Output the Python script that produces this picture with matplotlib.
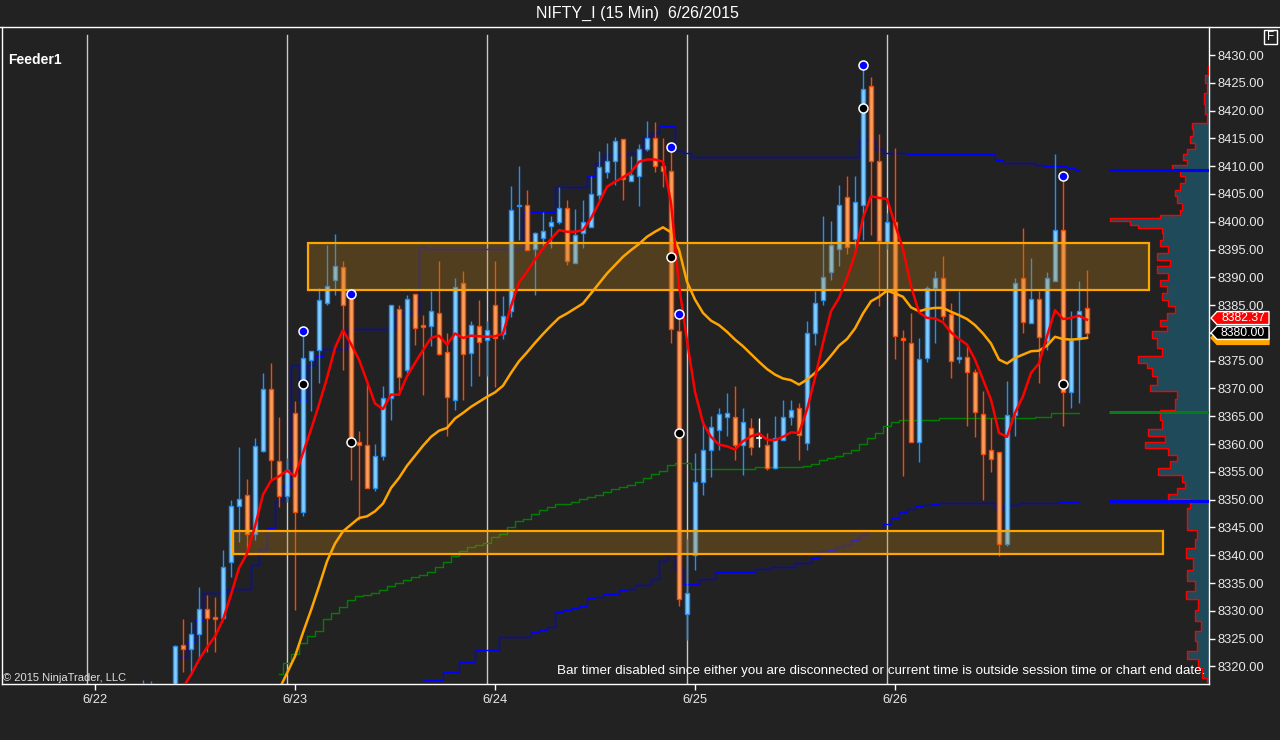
import numpy as np
import matplotlib
matplotlib.use('Agg')
import matplotlib.pyplot as plt
import matplotlib.transforms as mtransforms
from matplotlib.patches import Rectangle, Polygon
from matplotlib.lines import Line2D

plt.rcParams['font.family'] = ['Liberation Sans', 'DejaVu Sans']

BG = '#222222'
UP_FACE, UP_EDGE = '#87CEFA', '#1E90FF'
DN_FACE, DN_EDGE = '#F4A460', '#FF4500'

# NIFTY_I 15 min bars, bar 0 = first bar on screen (late 6/22) .. bar 118 = last bar of 6/26
opens = [8310, 8311, 8314, 8311, 8315, 8323.8, 8323.1, 8325.8, 8330.4, 8328.8,
         8328.7, 8338.8, 8348.8, 8350.8, 8343.8, 8358.8, 8369.9, 8357.0, 8350.6, 8365.6,
         8347.7, 8375.2, 8377.0, 8385.4, 8389.6, 8391.9, 8386.6, 8360.4, 8359.8, 8352.1,
         8357.8, 8368.3, 8384.3, 8373.3, 8387.0, 8381.4, 8381.2, 8383.6, 8376.6, 8367.9,
         8389.0, 8376.4, 8381.2, 8378.8, 8385.0, 8379.8, 8383.9, 8402.8, 8403.0, 8395.1,
         8397.1, 8399.2, 8400.0, 8402.4, 8392.6, 8398.0, 8399.0, 8404.9, 8408.9, 8410.9,
         8414.9, 8407.3, 8408.3, 8413.1, 8415.1, 8410.0, 8409.1, 8380.3, 8329.5, 8340.1,
         8353.2, 8359.0, 8362.6, 8364.9, 8364.9, 8359.9, 8362.9, 8361.1, 8359.9, 8355.7,
         8360.8, 8364.9, 8366.5, 8360.2, 8380.0, 8386.0, 8391.0, 8395.1, 8404.5, 8396.9,
         8403.0, 8424.5, 8410.9, 8396.3, 8400.0, 8379.0, 8378.1, 8360.3, 8375.4, 8388.0,
         8389.9, 8383.4, 8375.3, 8375.7, 8373.0, 8365.4, 8358.9, 8358.6, 8342.0, 8365.2,
         8389.9, 8381.8, 8386.1, 8378.5, 8389.3, 8398.5, 8369.4, 8378.9, 8384.4]
highs = [8317.6, 8317.3, 8316, 8316.5, 8323.8, 8328.6, 8327.9, 8334.3, 8332.9, 8332.5,
         8341.0, 8350.0, 8359.4, 8353.8, 8361.1, 8372.8, 8374.6, 8364.9, 8357.5, 8367.7,
         8380.3, 8376.8, 8388.1, 8395.9, 8397.8, 8392.9, 8387.0, 8362.4, 8371.3, 8360.1,
         8370.5, 8385.0, 8385.1, 8386.9, 8387.0, 8383.3, 8387.5, 8393.0, 8380.0, 8389.9,
         8391.1, 8382.1, 8386.0, 8382.1, 8393.0, 8386.6, 8406.5, 8410.1, 8405.7, 8398.1,
         8401.8, 8401.0, 8406.2, 8404.0, 8402.3, 8404.0, 8408.2, 8412.8, 8414.2, 8415.3,
         8414.9, 8411.9, 8413.9, 8418.1, 8417.9, 8415.0, 8413.5, 8383.4, 8343.0, 8358.4,
         8364.1, 8365.0, 8366.5, 8369.1, 8370.5, 8366.4, 8364.7, 8364.6, 8362.0, 8365.0,
         8367.9, 8368.0, 8367.3, 8382.1, 8387.5, 8401.1, 8400.1, 8406.7, 8408.2, 8408.2,
         8428.2, 8426.1, 8415.8, 8401.6, 8413.3, 8380.6, 8383.5, 8379.0, 8388.5, 8391.1,
         8393.9, 8385.3, 8387.6, 8377.6, 8373.5, 8369.6, 8364.7, 8358.6, 8371.4, 8389.9,
         8398.9, 8393.5, 8387.6, 8391.0, 8412.1, 8408.3, 8384.0, 8389.4, 8391.4]
lows = [8308, 8309, 8309, 8309, 8313, 8319.0, 8318.5, 8321.2, 8322.6, 8322.6,
        8328.5, 8336.0, 8342.3, 8340.5, 8342.8, 8358.6, 8353.6, 8348.6, 8349.5, 8330.2,
        8347.0, 8365.9, 8371.0, 8385.0, 8386.9, 8373.4, 8353.6, 8346.4, 8352.1, 8351.5,
        8357.2, 8364.4, 8368.9, 8372.8, 8377.9, 8368.9, 8377.6, 8376.1, 8361.4, 8366.1,
        8368.0, 8370.4, 8372.2, 8372.2, 8370.3, 8378.9, 8382.9, 8396.8, 8395.0, 8386.9,
        8395.3, 8395.3, 8399.6, 8392.3, 8392.6, 8395.3, 8399.0, 8403.9, 8407.8, 8406.6,
        8403.9, 8407.3, 8402.9, 8412.7, 8408.9, 8406.2, 8378.1, 8330.9, 8324.8, 8337.4,
        8350.9, 8354.0, 8359.0, 8361.4, 8357.2, 8354.5, 8358.0, 8359.4, 8355.3, 8355.5,
        8360.8, 8363.5, 8357.1, 8359.0, 8377.9, 8385.1, 8389.6, 8392.0, 8394.2, 8394.4,
        8396.8, 8397.7, 8384.9, 8395.1, 8375.3, 8354.3, 8360.3, 8356.8, 8374.7, 8378.1,
        8382.4, 8371.9, 8374.5, 8363.3, 8361.2, 8349.9, 8354.9, 8339.9, 8341.7, 8361.5,
        8379.9, 8381.7, 8370.9, 8376.9, 8389.3, 8363.2, 8366.5, 8367.4, 8379.1]
closes = [8314, 8315, 8311, 8315, 8323.6, 8323.2, 8325.8, 8330.4, 8328.7, 8328.6,
          8337.9, 8348.8, 8350.2, 8343.8, 8359.6, 8369.9, 8357.1, 8350.6, 8355.4, 8347.7,
          8375.5, 8376.8, 8386.0, 8388.4, 8392.1, 8385.1, 8360.2, 8359.9, 8352.1, 8357.8,
          8368.3, 8384.95, 8372.1, 8386.1, 8380.8, 8381.0, 8384.0, 8376.2, 8368.5, 8388.3,
          8376.2, 8381.4, 8378.4, 8380.6, 8379.1, 8383.0, 8402.1, 8403.1, 8395.0, 8398.0,
          8398.4, 8400.0, 8402.4, 8393.0, 8397.6, 8400.0, 8405.0, 8409.8, 8410.9, 8414.5,
          8407.7, 8408.4, 8413.1, 8415.1, 8410.0, 8409.1, 8380.7, 8332.1, 8333.2, 8353.2,
          8359.0, 8363.1, 8365.4, 8365.6, 8359.9, 8364.0, 8359.5, 8361.1, 8355.7, 8361.1,
          8364.9, 8366.2, 8361.6, 8380.0, 8385.4, 8390.1, 8395.9, 8403.0, 8395.5, 8403.6,
          8423.9, 8410.9, 8396.6, 8400.0, 8379.4, 8378.7, 8360.3, 8375.3, 8388.1, 8389.9,
          8383.0, 8374.9, 8375.7, 8373.0, 8365.8, 8358.3, 8357.3, 8342.0, 8365.2, 8389.0,
          8381.9, 8386.1, 8379.2, 8389.9, 8398.5, 8369.4, 8378.8, 8383.9, 8380.0]

# fast (red) and slow (orange) averages
red_start = 4
red_ma = [8314.0, 8316.2, 8318.5, 8321.2, 8323.4, 8325.4, 8328.4, 8332.9, 8337.7, 8340.3,
          8345.2, 8350.9, 8353.4, 8354.2, 8355.2, 8354.2, 8358.4, 8362.6, 8367.1, 8371.9,
          8377.3, 8380.5, 8378.0, 8375.2, 8371.3, 8367.3, 8366.3, 8368.9, 8368.9, 8372.2,
          8374.6, 8376.9, 8379.1, 8379.5, 8377.9, 8379.9, 8379.1, 8379.5, 8379.4, 8379.3,
          8379.4, 8379.9, 8384.8, 8389.1, 8391.0, 8393.2, 8395.2, 8396.9, 8398.5, 8398.2,
          8398.2, 8398.5, 8400.6, 8403.4, 8406.3, 8407.2, 8408.0, 8408.9, 8410.8, 8411.2,
          8411.2, 8410.8, 8403.4, 8388.5, 8378.6, 8369.4, 8363.8, 8361.3, 8359.9, 8359.6,
          8359.0, 8360.5, 8361.4, 8361.9, 8360.8, 8360.7, 8361.3, 8362.1, 8362.0, 8366.2,
          8371.9, 8378.2, 8383.9, 8386.3, 8389.9, 8394.1, 8400.7, 8404.6, 8404.3, 8404.1,
          8399.5, 8395.1, 8388.4, 8383.7, 8382.7, 8382.6, 8381.9, 8380.1, 8378.9, 8377.9,
          8375.2, 8371.6, 8368.0, 8362.0, 8361.3, 8365.6, 8368.6, 8372.8, 8374.5, 8379.4,
          8384.1, 8382.5, 8382.7, 8383.1, 8382.37]
orange_start = 17
orange_ma = [8315.8, 8318.8, 8321.8, 8326.1, 8330.1, 8334.4, 8338.9, 8342.1, 8344.3, 8345.5,
             8346.7, 8347.0, 8347.9, 8349.3, 8352.1, 8353.9, 8356.1, 8357.9, 8359.7, 8361.3,
             8362.4, 8362.9, 8364.6, 8365.6, 8366.7, 8367.6, 8368.5, 8369.3, 8370.5, 8372.8,
             8374.9, 8376.5, 8378.2, 8379.8, 8381.3, 8382.7, 8383.5, 8384.4, 8385.3, 8387.1,
             8388.9, 8390.7, 8392.2, 8393.7, 8394.9, 8396.0, 8397.3, 8398.2, 8399.0, 8398.1,
             8395.0, 8389.2, 8386.0, 8383.6, 8382.2, 8381.4, 8380.2, 8378.8, 8377.6, 8376.2,
             8374.8, 8373.5, 8372.5, 8371.8, 8371.5, 8370.7, 8371.6, 8372.8, 8374.2, 8375.9,
             8377.7, 8378.9, 8380.8, 8383.5, 8385.7, 8386.5, 8387.6, 8387.1, 8386.5, 8384.6,
             8383.9, 8384.3, 8384.5, 8384.5, 8383.8, 8383.2, 8382.5, 8381.4, 8379.9, 8378.1,
             8375.2, 8374.5, 8375.5, 8376.1, 8376.7, 8376.8, 8377.7, 8379.3, 8378.9, 8378.8,
             8378.9, 8379.1]
# green step line (vwap)
green_start = 17
vwap = [8318.7, 8320.6, 8322.3, 8324.2, 8325.5, 8326.4, 8328.5, 8329.6, 8330.7, 8332.0,
        8332.6, 8332.9, 8333.2, 8333.8, 8334.4, 8335.0, 8335.6, 8336.1, 8336.5, 8337.0,
        8337.9, 8338.8, 8339.9, 8340.8, 8341.5, 8341.9, 8342.2, 8343.2, 8343.8, 8345.1,
        8346.1, 8346.5, 8347.4, 8348.2, 8348.7, 8349.2, 8349.3, 8349.6, 8350.1, 8350.4,
        8350.8, 8351.3, 8352.0, 8352.3, 8352.6, 8353.1, 8353.9, 8354.6, 8355.2, 8356.3,
        8356.6, 8356.6, 8355.5, 8355.5, 8355.5, 8355.5, 8355.5, 8355.5, 8355.5, 8355.5,
        8355.9, 8355.9, 8355.9, 8355.9, 8355.9, 8355.9, 8356.1, 8356.5, 8357.1, 8357.5,
        8357.9, 8358.4, 8359.0, 8360.0, 8361.1, 8362.0, 8363.3, 8364.0, 8364.3, 8364.3,
        8364.3, 8364.3, 8364.3, 8364.7, 8364.7, 8364.7, 8364.7, 8364.7, 8364.7, 8364.7,
        8364.7, 8364.7, 8364.7, 8364.7, 8364.7, 8364.9, 8364.9, 8365.5, 8365.5, 8365.6,
        8365.6]
# blue step lines
blue_hi_start = 4
blue_hi = [8321.6, 8321.6, 8324.3, 8328.4, 8333.2, 8333.2, 8333.2, 8333.9, 8333.9, 8333.9,
           8338.3, 8341.1, 8344.9, 8349.7, 8352.5, 8374.3, 8368.0, 8374.3, 8375.9, 8377.1,
           8377.1, 8377.1, 8380.7, 8380.7, 8380.7, 8380.7, 8380.7, 8380.7, 8383.6, 8383.6,
           8383.6, 8395.5, 8395.1, 8395.1, 8395.1, 8395.1, 8395.1, 8395.1, 8395.1, 8395.1,
           8395.1, 8395.1, 8395.1, 8395.1, 8401.8, 8401.8, 8401.8, 8401.8, 8406.2, 8406.2,
           8406.2, 8406.2, 8408.2, 8410.5, 8412.0, 8412.0, 8412.0, 8412.4, 8412.4, 8415.3,
           8415.9, 8417.3, 8417.3, 8412.7, 8412.4, 8411.6, 8411.6, 8411.6, 8411.6, 8411.6,
           8411.6, 8411.6, 8411.6, 8411.6, 8411.6, 8411.6, 8411.6, 8411.6, 8411.6, 8411.6,
           8411.6, 8411.6, 8411.6, 8411.6, 8411.6, 8411.6, 8414.8, 8414.8, 8413.1, 8412.4,
           8412.4, 8412.4, 8412.1, 8412.1, 8412.1, 8412.1, 8412.1, 8412.1, 8412.1, 8412.1,
           8412.1, 8412.1, 8412.1, 8411.2, 8410.6, 8410.6, 8410.6, 8410.6, 8410.3, 8410.1,
           8410.1, 8410.1, 8409.7, 8409.4]
blue_lo_start = 35
blue_lo = [8317.6, 8317.6, 8317.6, 8319.0, 8319.0, 8320.8, 8320.8, 8323.0, 8323.0, 8323.0,
           8325.3, 8325.3, 8325.3, 8325.3, 8326.1, 8326.5, 8327.1, 8329.8, 8330.1, 8330.5,
           8330.9, 8332.3, 8332.4, 8333.1, 8333.1, 8333.7, 8334.0, 8334.7, 8334.7, 8335.7,
           8338.9, 8340.2, 8337.6, 8334.9, 8334.9, 8335.8, 8335.8, 8336.9, 8336.9, 8336.9,
           8336.9, 8336.9, 8337.5, 8337.5, 8337.9, 8337.9, 8337.9, 8338.6, 8338.6, 8339.5,
           8340.7, 8341.0, 8341.5, 8341.9, 8342.8, 8343.7, 8344.6, 8344.6, 8345.7, 8346.7,
           8347.7, 8348.3, 8348.8, 8349.0, 8349.3, 8349.4, 8349.4, 8349.4, 8349.4, 8349.4,
           8349.4, 8349.4, 8348.4, 8349.1, 8349.1, 8349.4, 8349.4, 8349.4, 8349.4, 8349.4,
           8349.6, 8349.6, 8349.6]

# swing markers
blue_dot_bar = [20, 26, 66, 67, 90, 115]
blue_dot_price = [8380.3, 8387.0, 8413.5, 8383.4, 8428.2, 8408.3]
black_dot_bar = [20, 26, 66, 67, 90, 115]
black_dot_price = [8370.8, 8360.4, 8393.6, 8362.0, 8420.5, 8370.8]

# volume profile (price level, relative volume)
profile_price = [8317.0, 8318.8, 8320.6, 8322.1, 8323.6, 8325.4, 8327.5, 8329.0, 8331.4, 8332.9,
                 8334.4, 8336.2, 8338.6, 8340.4, 8342.2, 8343.7, 8345.2, 8347.6, 8349.5, 8350.6,
                 8351.5, 8352.7, 8353.6, 8355.1, 8356.3, 8357.5, 8358.7, 8359.9, 8360.8, 8362.0,
                 8363.5, 8365.0, 8367.4, 8368.9, 8370.1, 8371.0, 8373.4, 8374.0, 8375.2, 8376.4,
                 8378.2, 8380.0, 8380.6, 8381.8, 8383.0, 8384.2, 8385.4, 8386.6, 8387.8, 8389.0,
                 8390.2, 8391.4, 8392.6, 8393.8, 8395.0, 8396.2, 8397.4, 8398.6, 8399.2, 8399.8,
                 8400.4, 8401.0, 8401.6, 8402.8, 8404.0, 8405.2, 8406.4, 8407.6, 8408.8, 8410.0,
                 8410.6, 8411.8, 8412.4, 8413.6, 8414.8, 8416.0, 8417.2, 8418.4, 8420.2, 8422.0,
                 8424.4, 8425.6, 8427.2]
profile_vol = [2.3, 7.3, 10.7, 21.7, 12.3, 14, 8, 14, 10.7, 23,
               14, 22.3, 15.7, 23, 14, 12.3, 22.3, 22.3, 19, 40.7,
               32.3, 24, 27.3, 50.7, 39, 32.3, 40.7, 64, 44, 60.7,
               47.3, 49, 34, 32.3, 59, 52.3, 57.3, 62.3, 70.7, 47.3,
               52.3, 57.3, 42.3, 49, 42.3, 34, 40.7, 47.3, 42.3, 49,
               40.7, 52.3, 39, 52.3, 40.7, 49, 45.7, 47.3, 70.7, 79,
               99, 49, 29, 27.3, 32.3, 34, 29, 24, 29, 37.3,
               22.3, 25.7, 22.3, 14, 19, 15.7, 17, 2.3, 4, 5,
               2.3, 4, 1]
profile_levels_blue = [8409.3, 8349.8]
profile_level_green = 8365.8

# zones drawn on chart: (from bar, to bar, low, high)
zones = [(20.6, 125.7, 8387.8, 8396.1), (11.2, 127.5, 8340.3, 8344.3)]

session_breaks = [-7, 18, 43, 68, 93]
date_ticks = [-6, 19, 44, 69, 94]
date_labels = ['6/22', '6/23', '6/24', '6/25', '6/26']
price_ticks = list(range(8320, 8431, 5))

last_price = 8380.00
last_red = 8382.37
last_orange = 8379.1

# ---------------------------------------------------------------
W, H = 1280, 740
fig = plt.figure(figsize=(W / 100, H / 100), dpi=100, facecolor=BG)
ax_l, ax_r, ax_t, ax_b = 2, 1209, 27, 684
ax = fig.add_axes([ax_l / W, 1 - ax_b / H, (ax_r - ax_l) / W, (ax_b - ax_t) / H])
ax.set_facecolor(BG)
x_lo, x_hi = -17.625, 133.25
y_lo, y_hi = 8316.83, 8435.04
ax.set_xlim(x_lo, x_hi)
ax.set_ylim(y_lo, y_hi)
px_per_price = (ax_b - ax_t) / (y_hi - y_lo)
px_per_bar = (ax_r - ax_l) / (x_hi - x_lo)

for b in session_breaks:
    ax.axvline(b, ymax=(ax_b - 35) / (ax_b - ax_t), color='#C8C8C8', lw=1, zorder=1)

# step lines
def steps(start, vals, color, lw, z):
    xs = np.arange(start, start + len(vals))
    ax.plot(xs, vals, drawstyle='steps-mid', color=color, lw=lw, zorder=z)

steps(green_start, vwap, '#008000', 1.0, 2)
steps(blue_hi_start, blue_hi, '#0000FF', 1.0, 2)
steps(blue_lo_start, blue_lo, '#0000FF', 1.0, 2)

# candles
for i in range(len(opens)):
    o, h, l, c = opens[i], highs[i], lows[i], closes[i]
    if c > o:
        face, edge = UP_FACE, UP_EDGE
    elif c < o:
        face, edge = DN_FACE, DN_EDGE
    else:
        face, edge = 'white', 'white'
    ax.plot([i, i], [l, h], color=edge, lw=1, zorder=2.9, solid_capstyle='butt')
    if c == o:
        ax.plot([i - 0.3, i + 0.3], [o, o], color=edge, lw=1.2, zorder=3)
    else:
        ax.add_patch(Rectangle((i - 0.3, min(o, c)), 0.6, abs(c - o),
                               facecolor=face, edgecolor=edge, lw=1, zorder=3))

# zones
for x0, x1, lo, hi in zones:
    ax.add_patch(Rectangle((x0, lo), x1 - x0, hi - lo, facecolor='#BB7F15', alpha=0.3,
                           edgecolor='none', zorder=4))
    ax.add_patch(Rectangle((x0, lo), x1 - x0, hi - lo, fill=False,
                           edgecolor='#FFA500', lw=1.6, zorder=4.1))

ax.plot(np.arange(orange_start, orange_start + len(orange_ma)), orange_ma, color='#FFA500', lw=1.8, zorder=5)
ax.plot(np.arange(red_start, red_start + len(red_ma)), red_ma, color='#FF0000', lw=1.8, zorder=5.1)

ax.plot(blue_dot_bar, blue_dot_price, 'o', ms=6.5, mfc='#0000FF', mec='white', mew=1.1, zorder=7)
ax.plot(black_dot_bar, black_dot_price, 'o', ms=6.5, mfc='black', mec='white', mew=1.1, zorder=7)

# volume profile against right edge
edges = [profile_price[0] - 0.9] + [(a + b) / 2 for a, b in zip(profile_price[:-1], profile_price[1:])] + [profile_price[-1] + 0.9]
ys, xs = [], []
for k, v in enumerate(profile_vol):
    left = x_hi - v / px_per_bar
    ys += [edges[k], edges[k + 1]]
    xs += [left, left]
ax.fill_betweenx(ys, xs, x_hi, color='#1E4A59', lw=0, zorder=2.5)
ax.plot(xs, ys, color='#FF0000', lw=1.0, zorder=2.6)
ext0 = x_hi - 100 / px_per_bar
for lvl in profile_levels_blue:
    ax.plot([ext0, x_hi], [lvl, lvl], color='#0000FF', lw=2.2, zorder=6, solid_capstyle='butt')
ax.plot([ext0, x_hi], [profile_level_green] * 2, color='#0A7A1E', lw=2.2, zorder=6, solid_capstyle='butt')

# axes styling
for s in ['left', 'bottom', 'right']:
    ax.spines[s].set_color('white')
    ax.spines[s].set_linewidth(1)
ax.spines['top'].set_visible(False)
ax.yaxis.tick_right()
ax.set_yticks(price_ticks)
# the 8380 label sits under the last-price tag, as on the original chart
ax.set_yticklabels(['' if abs(p - last_price) < 1 else '%.2f' % p for p in price_ticks])
ax.set_xticks(date_ticks)
ax.set_xticklabels(date_labels)
ax.tick_params(axis='y', colors='white', labelcolor='#E8E8E8', length=4, width=1, pad=2, labelsize=9.3)
ax.tick_params(axis='x', colors='white', labelcolor='#E8E8E8', length=4, width=1, pad=3, labelsize=9.3)

# price tags on the axis
trans = mtransforms.blended_transform_factory(ax.transAxes, ax.transData)
def ax_x(px):
    return (px - ax_l) / (ax_r - ax_l)

def price_tag(price, face, edge, label=None, txt_color='white'):
    h = 6.5 / px_per_price
    pts = [(ax_x(1211), price), (ax_x(1217), price + h), (ax_x(1269), price + h),
           (ax_x(1269), price - h), (ax_x(1217), price - h)]
    ax.add_patch(Polygon(pts, closed=True, facecolor=face, edgecolor=edge, lw=1,
                         transform=trans, clip_on=False, zorder=10))
    if label:
        ax.text(ax_x(1243), price, label, transform=trans, ha='center', va='center',
                color=txt_color, fontsize=8.8, clip_on=False, zorder=11)

# orange tag sits mostly hidden behind the last-price tag
price_tag(last_orange, '#FFA500', '#FFA500')
price_tag(last_red + 0.3, '#FF0000', 'white', '%.2f' % last_red)
price_tag(last_price, 'black', 'white', '%.2f' % last_price)

# frame and texts
fig.add_artist(Line2D([0, 1], [1 - ax_t / H] * 2, transform=fig.transFigure, color='white', lw=1))
fig.add_artist(Rectangle((1264 / W, 1 - 44 / H), 13 / W, 14 / H, transform=fig.transFigure,
                         fill=False, edgecolor='white', lw=1))
fig.text(1270.5 / W, 1 - 37 / H, 'F', ha='center', va='center', color='white', fontsize=8.5)
fig.text(637 / W, 1 - 13 / H, 'NIFTY_I (15 Min)  6/26/2015', ha='center', va='center',
         color='white', fontsize=11.5)
fig.text(8 / W, 1 - 60 / H, 'Feeder1', ha='left', va='center', color='white',
         fontsize=10, fontweight='bold')
fig.text(3 / W, 1 - 678 / H, '\u00a9 2015 NinjaTrader, LLC', ha='left', va='center',
         color='#E0E0E0', fontsize=8)
fig.text(1205 / W, 1 - 671 / H,
         'Bar timer disabled since either you are disconnected or current time is outside session time or chart end date.',
         ha='right', va='center', color='white', fontsize=9.6)

fig.savefig('out.png', dpi=100, facecolor=BG)
